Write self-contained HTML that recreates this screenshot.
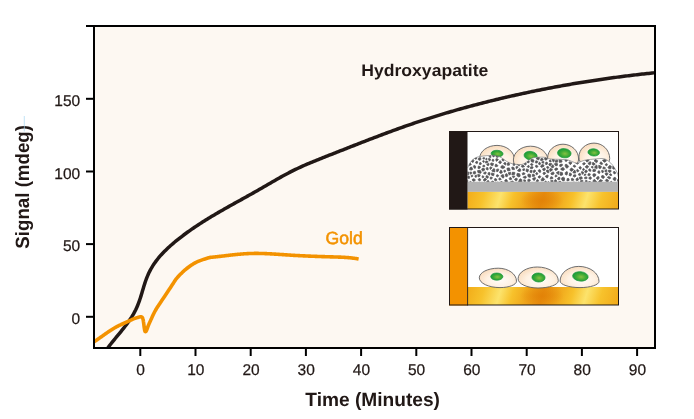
<!DOCTYPE html>
<html><head><meta charset="utf-8"><style>
html,body{margin:0;padding:0;background:#fff;}
svg{display:block;will-change:transform;}
text{font-family:"Liberation Sans",sans-serif;text-rendering:geometricPrecision;}
</style></head><body>
<svg width="694" height="419" viewBox="0 0 694 419">
<defs>
<clipPath id="plot"><rect x="95" y="27" width="559" height="320"/></clipPath>
<linearGradient id="gold1" x1="468.0" y1="177.47" x2="618.0" y2="223.33" gradientUnits="userSpaceOnUse"><stop offset="0.0427" stop-color="#f3b01c"/><stop offset="0.1281" stop-color="#f7c22c"/><stop offset="0.2317" stop-color="#fce36c"/><stop offset="0.3110" stop-color="#f7c12b"/><stop offset="0.4025" stop-color="#efa51a"/><stop offset="0.4939" stop-color="#e68c0e"/><stop offset="0.5854" stop-color="#efa51a"/><stop offset="0.6768" stop-color="#f7c12b"/><stop offset="0.7622" stop-color="#fce36c"/><stop offset="0.8536" stop-color="#f7c22c"/><stop offset="0.9573" stop-color="#f2ad1c"/></linearGradient><radialGradient id="gold1r" cx="542" cy="200.4" r="22" gradientTransform="translate(542 200.4) scale(1 0.5) translate(-542 -200.4)" gradientUnits="userSpaceOnUse"><stop offset="0" stop-color="#e17f05" stop-opacity="0.75"/><stop offset="1" stop-color="#e17f05" stop-opacity="0"/></radialGradient><linearGradient id="gold2" x1="468.0" y1="273.07" x2="618.0" y2="318.93" gradientUnits="userSpaceOnUse"><stop offset="0.0427" stop-color="#f3b01c"/><stop offset="0.1281" stop-color="#f7c22c"/><stop offset="0.2317" stop-color="#fce36c"/><stop offset="0.3110" stop-color="#f7c12b"/><stop offset="0.4025" stop-color="#efa51a"/><stop offset="0.4939" stop-color="#e68c0e"/><stop offset="0.5854" stop-color="#efa51a"/><stop offset="0.6768" stop-color="#f7c12b"/><stop offset="0.7622" stop-color="#fce36c"/><stop offset="0.8536" stop-color="#f7c22c"/><stop offset="0.9573" stop-color="#f2ad1c"/></linearGradient><radialGradient id="gold2r" cx="542" cy="296.0" r="22" gradientTransform="translate(542 296.0) scale(1 0.5) translate(-542 -296.0)" gradientUnits="userSpaceOnUse"><stop offset="0" stop-color="#e17f05" stop-opacity="0.75"/><stop offset="1" stop-color="#e17f05" stop-opacity="0"/></radialGradient>
<radialGradient id="cellg" cx="0.55" cy="0.62" r="0.62"><stop offset="0" stop-color="#fffcf8"/><stop offset="0.55" stop-color="#fef1e3"/><stop offset="1" stop-color="#f9dcbd"/></radialGradient>
<radialGradient id="nuc" cx="0.55" cy="0.55" r="0.55"><stop offset="0" stop-color="#86c143"/><stop offset="0.55" stop-color="#40ab36"/><stop offset="1" stop-color="#179a3c"/></radialGradient>
<clipPath id="in1"><rect x="467.5" y="131.5" width="151" height="77.5"/></clipPath>
<clipPath id="por"><path d="M467.50,168.00 C467.92,167.17 469.08,164.42 470.00,163.00 C470.92,161.58 471.83,160.47 473.00,159.50 C474.17,158.53 475.33,157.77 477.00,157.20 C478.67,156.63 481.00,156.38 483.00,156.10 C485.00,155.82 487.17,155.62 489.00,155.50 C490.83,155.38 492.23,155.18 494.00,155.40 C495.77,155.62 498.10,156.23 499.60,156.80 C501.10,157.37 501.80,158.02 503.00,158.80 C504.20,159.58 505.63,160.80 506.80,161.50 C507.97,162.20 508.93,162.58 510.00,163.00 C511.07,163.42 512.03,163.77 513.20,164.00 C514.37,164.23 515.53,164.32 517.00,164.40 C518.47,164.48 520.50,164.82 522.00,164.50 C523.50,164.18 524.67,163.33 526.00,162.50 C527.33,161.67 528.67,160.32 530.00,159.50 C531.33,158.68 532.50,157.98 534.00,157.60 C535.50,157.22 537.27,157.25 539.00,157.20 C540.73,157.15 542.85,157.07 544.40,157.30 C545.95,157.53 546.87,158.28 548.30,158.60 C549.73,158.92 551.47,159.08 553.00,159.20 C554.53,159.32 555.83,159.25 557.50,159.30 C559.17,159.35 561.25,159.38 563.00,159.50 C564.75,159.62 566.50,159.67 568.00,160.00 C569.50,160.33 570.50,160.97 572.00,161.50 C573.50,162.03 575.50,163.20 577.00,163.20 C578.50,163.20 579.50,162.03 581.00,161.50 C582.50,160.97 583.67,160.42 586.00,160.00 C588.33,159.58 592.50,159.25 595.00,159.00 C597.50,158.75 599.33,158.50 601.00,158.50 C602.67,158.50 603.67,158.50 605.00,159.00 C606.33,159.50 607.75,160.50 609.00,161.50 C610.25,162.50 611.42,163.67 612.50,165.00 C613.58,166.33 614.62,167.93 615.50,169.50 C616.38,171.07 617.22,172.65 617.80,174.40 C618.38,176.15 618.80,179.07 619.00,180.00 L619,182.5 L467,182.5 Z"/></clipPath>
<clipPath id="in2"><rect x="467.5" y="227.5" width="151" height="77.5"/></clipPath>
</defs>
<rect x="94" y="26" width="561" height="322" fill="#fdf8f2"/>
<g clip-path="url(#plot)" fill="none" stroke-linecap="round" stroke-linejoin="round">
<path d="M100.26,360.14 L101.02,358.67 L101.81,357.21 L102.63,355.78 L103.49,354.36 L104.37,352.96 L105.28,351.57 L106.22,350.20 L107.18,348.83 L108.16,347.48 L109.16,346.14 L110.17,344.81 L111.20,343.49 L112.24,342.17 L113.30,340.86 L114.36,339.56 L115.42,338.26 L116.49,336.96 L117.57,335.66 L118.64,334.37 L119.71,333.07 L120.77,331.77 L121.83,330.47 L122.88,329.17 L123.92,327.86 L124.95,326.54 L125.96,325.22 L126.96,323.89 L127.94,322.55 L128.89,321.20 L129.82,319.84 L130.73,318.47 L131.62,317.08 L132.47,315.68 L133.30,314.27 L134.10,312.84 L134.87,311.40 L135.61,309.94 L136.31,308.46 L136.98,306.97 L137.62,305.46 L138.23,303.94 L138.81,302.40 L139.37,300.85 L139.91,299.28 L140.43,297.71 L140.93,296.13 L141.42,294.54 L141.89,292.94 L142.37,291.34 L142.84,289.74 L143.31,288.14 L143.79,286.54 L144.29,284.94 L144.79,283.36 L145.32,281.78 L145.87,280.21 L146.45,278.66 L147.05,277.12 L147.69,275.59 L148.36,274.08 L149.05,272.59 L149.78,271.12 L150.55,269.66 L151.35,268.23 L152.18,266.81 L153.05,265.42 L153.95,264.04 L154.89,262.69 L155.86,261.35 L156.85,260.04 L157.88,258.74 L158.93,257.46 L160.01,256.20 L161.11,254.95 L162.24,253.73 L163.39,252.52 L164.56,251.32 L165.75,250.14 L166.96,248.98 L168.18,247.83 L169.42,246.69 L170.67,245.57 L171.94,244.46 L173.22,243.36 L174.51,242.28 L175.80,241.21 L177.11,240.15 L178.42,239.10 L179.73,238.06 L181.06,237.03 L182.38,236.01 L183.72,235.01 L185.06,234.01 L186.40,233.02 L187.75,232.04 L189.11,231.07 L190.47,230.11 L191.84,229.16 L193.21,228.22 L194.58,227.28 L195.96,226.35 L197.35,225.43 L198.74,224.52 L200.13,223.61 L201.53,222.72 L202.93,221.82 L204.33,220.94 L205.74,220.06 L207.15,219.18 L208.57,218.32 L209.99,217.45 L211.41,216.60 L212.83,215.74 L214.26,214.90 L215.69,214.05 L217.12,213.21 L218.55,212.38 L219.99,211.55 L221.43,210.72 L222.87,209.90 L224.31,209.07 L225.76,208.25 L227.20,207.44 L228.65,206.62 L230.10,205.81 L231.55,205.00 L233.00,204.19 L234.45,203.38 L235.91,202.58 L237.36,201.77 L238.81,200.96 L240.27,200.16 L241.72,199.35 L243.18,198.55 L244.63,197.74 L246.09,196.93 L247.54,196.12 L248.99,195.32 L250.45,194.50 L251.90,193.69 L253.35,192.88 L254.80,192.06 L256.25,191.24 L257.70,190.42 L259.14,189.59 L260.59,188.77 L262.03,187.94 L263.48,187.10 L264.92,186.27 L266.36,185.43 L267.80,184.60 L269.24,183.76 L270.68,182.92 L272.12,182.09 L273.57,181.26 L275.01,180.43 L276.46,179.60 L277.90,178.78 L279.35,177.96 L280.81,177.15 L282.26,176.34 L283.72,175.54 L285.18,174.74 L286.64,173.96 L288.11,173.18 L289.58,172.41 L291.06,171.65 L292.54,170.90 L294.02,170.16 L295.52,169.43 L297.01,168.71 L298.51,168.00 L300.02,167.30 L301.53,166.61 L303.04,165.94 L304.56,165.26 L306.08,164.60 L307.61,163.95 L309.14,163.30 L310.67,162.66 L312.21,162.02 L313.74,161.39 L315.28,160.76 L316.82,160.14 L318.37,159.52 L319.91,158.90 L321.46,158.29 L323.00,157.68 L324.55,157.07 L326.10,156.46 L327.65,155.85 L329.20,155.24 L330.74,154.64 L332.29,154.03 L333.84,153.42 L335.39,152.81 L336.94,152.20 L338.48,151.59 L340.03,150.98 L341.58,150.37 L343.13,149.76 L344.68,149.15 L346.22,148.54 L347.77,147.93 L349.32,147.33 L350.87,146.72 L352.42,146.11 L353.97,145.50 L355.52,144.90 L357.07,144.29 L358.62,143.69 L360.17,143.08 L361.72,142.48 L363.27,141.88 L364.82,141.28 L366.37,140.68 L367.92,140.08 L369.47,139.48 L371.03,138.89 L372.58,138.29 L374.13,137.70 L375.69,137.11 L377.24,136.52 L378.80,135.93 L380.35,135.34 L381.91,134.75 L383.47,134.17 L385.03,133.59 L386.58,133.01 L388.14,132.43 L389.70,131.85 L391.26,131.28 L392.83,130.71 L394.39,130.14 L395.95,129.57 L397.52,129.01 L399.08,128.45 L400.65,127.89 L402.21,127.33 L403.78,126.77 L405.35,126.22 L406.92,125.67 L408.49,125.13 L410.06,124.58 L411.63,124.04 L413.21,123.51 L414.78,122.97 L416.36,122.44 L417.93,121.91 L419.51,121.39 L421.09,120.87 L422.67,120.35 L424.25,119.83 L425.84,119.32 L427.42,118.81 L429.00,118.30 L430.59,117.80 L432.17,117.30 L433.76,116.80 L435.35,116.30 L436.94,115.81 L438.53,115.32 L440.12,114.84 L441.71,114.36 L443.31,113.88 L444.90,113.40 L446.49,112.92 L448.09,112.45 L449.69,111.98 L451.28,111.52 L452.88,111.06 L454.48,110.60 L456.08,110.14 L457.68,109.68 L459.28,109.23 L460.89,108.78 L462.49,108.34 L464.09,107.89 L465.70,107.45 L467.30,107.01 L468.91,106.58 L470.52,106.15 L472.13,105.72 L473.73,105.29 L475.34,104.86 L476.95,104.44 L478.56,104.02 L480.18,103.60 L481.79,103.19 L483.40,102.78 L485.01,102.37 L486.63,101.96 L488.24,101.56 L489.86,101.16 L491.47,100.76 L493.09,100.36 L494.71,99.97 L496.32,99.57 L497.94,99.19 L499.56,98.80 L501.18,98.41 L502.80,98.03 L504.42,97.65 L506.04,97.28 L507.66,96.90 L509.28,96.53 L510.90,96.16 L512.52,95.79 L514.15,95.43 L515.77,95.06 L517.40,94.70 L519.02,94.34 L520.65,93.99 L522.27,93.63 L523.90,93.28 L525.52,92.94 L527.15,92.59 L528.78,92.25 L530.41,91.90 L532.03,91.57 L533.66,91.23 L535.29,90.89 L536.92,90.56 L538.55,90.23 L540.18,89.91 L541.82,89.58 L543.45,89.26 L545.08,88.94 L546.71,88.62 L548.35,88.30 L549.98,87.99 L551.61,87.68 L553.25,87.37 L554.88,87.07 L556.52,86.76 L558.15,86.46 L559.79,86.16 L561.43,85.87 L563.06,85.57 L564.70,85.28 L566.34,84.99 L567.98,84.70 L569.62,84.42 L571.26,84.13 L572.90,83.85 L574.54,83.57 L576.18,83.30 L577.82,83.02 L579.46,82.75 L581.10,82.48 L582.75,82.22 L584.39,81.95 L586.03,81.69 L587.67,81.43 L589.32,81.17 L590.96,80.92 L592.61,80.66 L594.25,80.41 L595.90,80.16 L597.54,79.92 L599.19,79.67 L600.84,79.43 L602.48,79.19 L604.13,78.96 L605.78,78.72 L607.43,78.49 L609.08,78.26 L610.73,78.03 L612.38,77.80 L614.03,77.58 L615.68,77.36 L617.33,77.14 L618.98,76.92 L620.63,76.71 L622.28,76.49 L623.93,76.28 L625.58,76.07 L627.24,75.87 L628.89,75.67 L630.54,75.46 L632.20,75.26 L633.85,75.07 L635.50,74.87 L637.16,74.68 L638.81,74.49 L640.47,74.30 L642.13,74.11 L643.78,73.93 L645.44,73.75 L647.09,73.57 L648.75,73.39 L650.41,73.22 L652.07,73.04 L653.72,72.87 L655.38,72.71 L657.04,72.54 L658.70,72.37 L660.36,72.21 L662.02,72.05" stroke="#211816" stroke-width="3.5"/>
<path d="M86.01,346.32 L86.64,346.01 L87.27,345.69 L87.90,345.37 L88.52,345.04 L89.14,344.70 L89.75,344.36 L90.36,344.01 L90.97,343.66 L91.57,343.30 L92.17,342.93 L92.77,342.57 L93.36,342.20 L93.95,341.82 L94.54,341.44 L95.13,341.06 L95.72,340.67 L96.30,340.28 L96.88,339.89 L97.46,339.49 L98.04,339.09 L98.62,338.69 L99.20,338.29 L99.77,337.89 L100.35,337.48 L100.92,337.08 L101.50,336.67 L102.07,336.27 L102.64,335.86 L103.22,335.45 L103.79,335.05 L104.36,334.64 L104.94,334.24 L105.51,333.83 L106.09,333.43 L106.67,333.03 L107.24,332.63 L107.82,332.23 L108.40,331.83 L108.99,331.44 L109.57,331.05 L110.16,330.66 L110.74,330.28 L111.33,329.90 L111.93,329.52 L112.52,329.15 L113.12,328.78 L113.72,328.42 L114.32,328.06 L114.93,327.71 L115.54,327.36 L116.16,327.02 L116.77,326.68 L117.39,326.35 L118.02,326.03 L118.65,325.71 L119.28,325.40 L119.92,325.10 L120.56,324.80 L121.21,324.51L130.30,320.40 L130.52,320.30 L130.80,320.16 L131.13,320.00 L131.50,319.82 L131.90,319.63 L132.32,319.43 L132.75,319.23 L133.18,319.04 L133.60,318.86 L134.00,318.70 L134.39,318.55 L134.80,318.40 L135.22,318.26 L135.64,318.12 L136.06,317.98 L136.48,317.85 L136.89,317.73 L137.28,317.61 L137.65,317.50 L138.00,317.40 L138.33,317.31 L138.64,317.22 L138.94,317.13 L139.23,317.05 L139.51,316.98 L139.77,316.92 L140.02,316.87 L140.26,316.83 L140.48,316.81 L140.70,316.80 L140.90,316.80 L141.09,316.82 L141.26,316.84 L141.42,316.88 L141.56,316.93 L141.70,316.99 L141.83,317.06 L141.96,317.16 L142.08,317.27 L142.20,317.40 L142.32,317.55 L142.42,317.71 L142.52,317.89 L142.62,318.09 L142.71,318.30 L142.79,318.53 L142.87,318.77 L142.95,319.03 L143.02,319.31 L143.10,319.60 L143.17,319.91 L143.24,320.24 L143.30,320.60 L143.36,320.97 L143.42,321.35 L143.47,321.75 L143.53,322.15 L143.58,322.56 L143.64,322.98 L143.70,323.40 L143.76,323.83 L143.82,324.29 L143.88,324.76 L143.94,325.24 L143.99,325.73 L144.05,326.22 L144.11,326.69 L144.17,327.15 L144.24,327.59 L144.30,328.00 L144.36,328.40 L144.43,328.80 L144.49,329.19 L144.56,329.57 L144.62,329.94 L144.69,330.28 L144.76,330.59 L144.84,330.87 L144.92,331.11 L145.00,331.30 L145.09,331.44 L145.18,331.54 L145.28,331.61 L145.38,331.64 L145.48,331.64 L145.59,331.61 L145.69,331.56 L145.80,331.49 L145.90,331.40 L146.00,331.30 L146.10,331.19 L146.19,331.05 L146.28,330.90 L146.37,330.73 L146.46,330.53 L146.55,330.31 L146.65,330.07 L146.76,329.81 L146.87,329.52 L147.00,329.20 L147.14,328.85 L147.28,328.48 L147.43,328.07 L147.58,327.64 L147.74,327.19 L147.91,326.72 L148.09,326.24 L148.28,325.73 L148.49,325.22 L148.70,324.70 L148.93,324.16 L149.18,323.58 L149.45,322.99 L149.72,322.37 L150.01,321.74 L150.29,321.11 L150.58,320.49 L150.86,319.87 L151.14,319.27 L151.40,318.70 L151.65,318.15 L151.89,317.61 L152.13,317.08 L152.36,316.56 L152.59,316.04 L152.83,315.53 L153.06,315.03 L153.30,314.52 L153.55,314.01 L153.80,313.50 L154.06,312.99 L154.31,312.50 L154.56,312.01 L154.82,311.52 L155.08,311.03 L155.35,310.54 L155.64,310.03 L155.94,309.51 L156.26,308.97 L156.60,308.40 L156.97,307.81 L157.36,307.19 L157.78,306.55 L158.21,305.90 L158.66,305.23 L159.11,304.56 L159.56,303.89 L160.02,303.22 L160.46,302.55 L160.90,301.90 L161.33,301.26 L161.76,300.62 L162.19,299.98 L162.62,299.34 L163.05,298.70 L163.48,298.06 L163.91,297.42 L164.34,296.78 L164.77,296.14 L165.20,295.50 L165.63,294.85 L166.08,294.18 L166.52,293.51 L166.97,292.84 L167.41,292.16 L167.85,291.50 L168.28,290.84 L168.70,290.21 L169.11,289.59 L169.50,289.00 L169.87,288.44 L170.21,287.92 L170.54,287.41 L170.86,286.93 L171.18,286.45 L171.48,285.98 L171.80,285.50 L172.12,285.02 L172.45,284.52 L172.80,284.00 L173.15,283.46 L173.50,282.92 L173.84,282.38 L174.18,281.83 L174.54,281.27 L174.91,280.70 L175.31,280.12 L175.73,279.53 L176.19,278.92 L176.70,278.30 L177.26,277.65 L177.86,276.97 L178.50,276.27 L179.18,275.55 L179.88,274.83 L180.59,274.11 L181.30,273.40 L182.02,272.70 L182.72,272.03 L183.40,271.40 L184.07,270.79 L184.74,270.20 L185.41,269.63 L186.08,269.06 L186.75,268.52 L187.42,267.99 L188.09,267.47 L188.76,266.97 L189.43,266.48 L190.10,266.00 L190.77,265.54 L191.44,265.09 L192.11,264.65 L192.78,264.23 L193.45,263.82 L194.12,263.43 L194.79,263.05 L195.46,262.69 L196.13,262.34 L196.80,262.00 L197.47,261.68 L198.14,261.38 L198.82,261.10 L199.49,260.83 L200.16,260.57 L200.83,260.33 L201.50,260.09 L202.17,259.86 L202.84,259.63 L203.50,259.40 L204.19,259.17 L204.92,258.93 L205.67,258.69 L206.43,258.46 L207.17,258.24 L207.88,258.03 L208.53,257.83 L209.12,257.66 L209.61,257.52 L210.00,257.40L210.59,257.37 L211.18,257.31 L211.78,257.25 L212.37,257.19 L212.97,257.13 L213.56,257.07 L214.16,257.01 L214.75,256.95 L215.35,256.88 L215.95,256.82 L216.54,256.75 L217.14,256.68 L217.74,256.62 L218.33,256.55 L218.93,256.48 L219.53,256.41 L220.12,256.34 L220.72,256.27 L221.32,256.20 L221.91,256.13 L222.51,256.06 L223.11,255.99 L223.70,255.92 L224.30,255.85 L224.90,255.78 L225.50,255.71 L226.09,255.64 L226.69,255.57 L227.29,255.50 L227.89,255.43 L228.48,255.36 L229.08,255.29 L229.68,255.22 L230.28,255.15 L230.87,255.08 L231.47,255.02 L232.07,254.95 L232.67,254.88 L233.27,254.82 L233.86,254.75 L234.46,254.69 L235.06,254.63 L235.66,254.57 L236.26,254.51 L236.85,254.45 L237.45,254.39 L238.05,254.33 L238.65,254.27 L239.24,254.22 L239.84,254.17 L240.44,254.11 L241.04,254.06 L241.64,254.01 L242.23,253.97 L242.83,253.92 L243.43,253.88 L244.03,253.83 L244.63,253.79 L245.22,253.75 L245.82,253.72 L246.42,253.68 L247.02,253.65 L247.61,253.62 L248.21,253.59 L248.81,253.56 L249.41,253.54 L250.00,253.52 L250.60,253.50 L251.20,253.48 L251.80,253.46 L252.39,253.45 L252.99,253.44 L253.59,253.43 L254.18,253.42 L254.78,253.42 L255.38,253.41 L255.98,253.41 L256.57,253.41 L257.17,253.41 L257.77,253.42 L258.36,253.42 L258.96,253.43 L259.56,253.44 L260.15,253.45 L260.75,253.46 L261.35,253.48 L261.94,253.49 L262.54,253.51 L263.14,253.53 L263.73,253.55 L264.33,253.57 L264.93,253.59 L265.53,253.61 L266.12,253.64 L266.72,253.66 L267.32,253.69 L267.91,253.72 L268.51,253.75 L269.11,253.77 L269.70,253.81 L270.30,253.84 L270.90,253.87 L271.49,253.90 L272.09,253.94 L272.69,253.97 L273.28,254.01 L273.88,254.04 L274.48,254.08 L275.07,254.12 L275.67,254.15 L276.27,254.19 L276.86,254.23 L277.46,254.27 L278.06,254.31 L278.65,254.35 L279.25,254.39 L279.85,254.43 L280.45,254.47 L281.04,254.51 L281.64,254.55 L282.24,254.59 L282.83,254.63 L283.43,254.67 L284.03,254.71 L284.63,254.75 L285.22,254.80 L285.82,254.84 L286.42,254.88 L287.02,254.92 L287.61,254.96 L288.21,254.99 L288.81,255.03 L289.41,255.07 L290.01,255.11 L290.60,255.15 L291.20,255.18 L291.80,255.22 L292.40,255.26 L293.00,255.29 L293.59,255.33 L294.19,255.36 L294.79,255.40 L295.39,255.43 L295.99,255.46 L296.59,255.50 L297.18,255.53 L297.78,255.56 L298.38,255.59 L298.98,255.63 L299.58,255.66 L300.18,255.69 L300.78,255.72 L301.38,255.75 L301.97,255.78 L302.57,255.81 L303.17,255.84 L303.77,255.86 L304.37,255.89 L304.97,255.92 L305.57,255.95 L306.17,255.97 L306.77,256.00 L307.36,256.03 L307.96,256.05 L308.56,256.08 L309.16,256.11 L309.76,256.13 L310.36,256.16 L310.96,256.18 L311.56,256.20 L312.16,256.23 L312.75,256.25 L313.35,256.28 L313.95,256.30 L314.55,256.32 L315.15,256.34 L315.75,256.37 L316.35,256.39 L316.95,256.41 L317.55,256.43 L318.14,256.45 L318.74,256.47 L319.34,256.50 L319.94,256.52 L320.54,256.54 L321.14,256.56 L321.74,256.58 L322.34,256.60 L322.93,256.62 L323.53,256.64 L324.13,256.65 L324.73,256.67 L325.33,256.69 L325.93,256.71 L326.53,256.73 L327.12,256.75 L327.72,256.77 L328.32,256.78 L328.92,256.80 L329.52,256.82 L330.12,256.84 L330.71,256.85 L331.31,256.87 L331.91,256.89 L332.51,256.90 L333.11,256.92 L333.70,256.94 L334.30,256.95 L334.90,256.97 L335.50,256.99 L336.09,257.01 L336.69,257.02 L337.29,257.04 L337.88,257.06 L338.48,257.08 L339.08,257.10 L339.67,257.13 L340.27,257.15 L340.87,257.17 L341.46,257.20 L342.06,257.23 L342.66,257.26 L343.25,257.29 L343.85,257.32 L344.44,257.36 L345.04,257.39 L345.63,257.43 L346.23,257.47 L346.82,257.51 L347.41,257.56 L348.01,257.61 L348.60,257.66 L349.19,257.71 L349.79,257.77 L350.38,257.83 L350.97,257.89 L351.56,257.95 L352.15,258.02 L352.75,258.09 L353.34,258.17 L353.93,258.25 L354.52,258.33 L355.11,258.41 L355.70,258.50 L356.29,258.60 L356.88,258.69 L357.46,258.80 L358.05,258.90 L358.64,259.01" stroke="#f39200" stroke-width="3.6" stroke-linecap="butt"/>
</g>
<g fill="none" stroke="#000" stroke-width="2">
<path d="M86,26 H655 V348 H94 V26"/>
<line x1="140.3" y1="348" x2="140.3" y2="356"/><line x1="195.5" y1="348" x2="195.5" y2="356"/><line x1="250.7" y1="348" x2="250.7" y2="356"/><line x1="305.9" y1="348" x2="305.9" y2="356"/><line x1="361.1" y1="348" x2="361.1" y2="356"/><line x1="416.3" y1="348" x2="416.3" y2="356"/><line x1="471.5" y1="348" x2="471.5" y2="356"/><line x1="526.7" y1="348" x2="526.7" y2="356"/><line x1="581.9" y1="348" x2="581.9" y2="356"/><line x1="637.1" y1="348" x2="637.1" y2="356"/>
<line x1="86" y1="316.8" x2="94" y2="316.8"/><line x1="86" y1="244.1" x2="94" y2="244.1"/><line x1="86" y1="171.5" x2="94" y2="171.5"/><line x1="86" y1="98.8" x2="94" y2="98.8"/>
</g>
<g fill="#211816" stroke="#211816" stroke-width="0.25" font-size="15.5" text-anchor="middle"><text x="140.6" y="375">0</text><text x="195.8" y="375">10</text><text x="251.0" y="375">20</text><text x="306.2" y="375">30</text><text x="361.4" y="375">40</text><text x="416.6" y="375">50</text><text x="471.8" y="375">60</text><text x="527.0" y="375">70</text><text x="582.2" y="375">80</text><text x="637.4" y="375">90</text></g>
<g fill="#211816" stroke="#211816" stroke-width="0.25" font-size="15.5" text-anchor="end"><text x="80.2" y="324.0">0</text><text x="80.2" y="251.3">50</text><text x="80.2" y="178.7">100</text><text x="80.2" y="106.0">150</text></g>
<text x="372.65" y="405.8" font-size="19.2" font-weight="bold" fill="#211816" text-anchor="middle" textLength="134.6" lengthAdjust="spacingAndGlyphs">Time (Minutes)</text>
<text transform="translate(28.9,186.85) rotate(-90)" font-size="19.2" font-weight="bold" fill="#211816" text-anchor="middle" textLength="123.6" lengthAdjust="spacingAndGlyphs">Signal (mdeg)</text>
<text x="424.8" y="75.6" font-size="16.8" font-weight="bold" fill="#211816" text-anchor="middle" textLength="127" lengthAdjust="spacingAndGlyphs">Hydroxyapatite</text>
<text x="344.1" y="243.9" font-size="17.6" fill="#f39200" stroke="#f39200" stroke-width="0.55" text-anchor="middle" textLength="37.2" lengthAdjust="spacingAndGlyphs">Gold</text>

<rect x="449" y="131" width="170" height="78.5" fill="#fff"/>
<g clip-path="url(#in1)">
<path d="M479.60,158.50 C479.60,151.27 487.40,145.40 497.00,145.40 C506.72,145.40 514.60,151.94 514.60,160.00 C514.60,166.07 506.72,171.00 497.00,171.00 C487.40,171.00 479.60,165.40 479.60,158.50 Z" fill="url(#cellg)" stroke="#5e5f61" stroke-width="0.9"/><ellipse cx="497.1" cy="153.6" rx="6.00" ry="3.30" fill="url(#nuc)" stroke="#1d9a3b" stroke-width="0.7" transform="rotate(3 497.1 153.6)"/>
<path d="M513.40,160.00 C513.40,152.38 521.06,146.20 530.50,146.20 C540.16,146.20 548.00,152.61 548.00,160.50 C548.00,166.85 540.16,172.00 530.50,172.00 C521.06,172.00 513.40,166.62 513.40,160.00 Z" fill="url(#cellg)" stroke="#5e5f61" stroke-width="0.9"/><ellipse cx="530.6" cy="155.7" rx="6.60" ry="4.30" fill="url(#nuc)" stroke="#1d9a3b" stroke-width="0.7" transform="rotate(8 530.6 155.7)"/>
<path d="M547.60,158.00 C547.60,150.38 554.50,144.20 563.00,144.20 C571.61,144.20 578.60,150.83 578.60,159.00 C578.60,165.07 571.61,170.00 563.00,170.00 C554.50,170.00 547.60,164.62 547.60,158.00 Z" fill="url(#cellg)" stroke="#5e5f61" stroke-width="0.9"/><ellipse cx="564.3" cy="153.2" rx="6.80" ry="4.60" fill="url(#nuc)" stroke="#1d9a3b" stroke-width="0.7" transform="rotate(6 564.3 153.2)"/>
<path d="M578.90,157.00 C578.90,149.33 585.66,143.10 594.00,143.10 C602.67,143.10 609.70,150.00 609.70,158.50 C609.70,164.30 602.67,169.00 594.00,169.00 C585.66,169.00 578.90,163.62 578.90,157.00 Z" fill="url(#cellg)" stroke="#5e5f61" stroke-width="0.9"/><ellipse cx="593.7" cy="152.4" rx="5.80" ry="3.60" fill="url(#nuc)" stroke="#1d9a3b" stroke-width="0.7" transform="rotate(5 593.7 152.4)"/>
<path d="M467.50,168.00 C467.92,167.17 469.08,164.42 470.00,163.00 C470.92,161.58 471.83,160.47 473.00,159.50 C474.17,158.53 475.33,157.77 477.00,157.20 C478.67,156.63 481.00,156.38 483.00,156.10 C485.00,155.82 487.17,155.62 489.00,155.50 C490.83,155.38 492.23,155.18 494.00,155.40 C495.77,155.62 498.10,156.23 499.60,156.80 C501.10,157.37 501.80,158.02 503.00,158.80 C504.20,159.58 505.63,160.80 506.80,161.50 C507.97,162.20 508.93,162.58 510.00,163.00 C511.07,163.42 512.03,163.77 513.20,164.00 C514.37,164.23 515.53,164.32 517.00,164.40 C518.47,164.48 520.50,164.82 522.00,164.50 C523.50,164.18 524.67,163.33 526.00,162.50 C527.33,161.67 528.67,160.32 530.00,159.50 C531.33,158.68 532.50,157.98 534.00,157.60 C535.50,157.22 537.27,157.25 539.00,157.20 C540.73,157.15 542.85,157.07 544.40,157.30 C545.95,157.53 546.87,158.28 548.30,158.60 C549.73,158.92 551.47,159.08 553.00,159.20 C554.53,159.32 555.83,159.25 557.50,159.30 C559.17,159.35 561.25,159.38 563.00,159.50 C564.75,159.62 566.50,159.67 568.00,160.00 C569.50,160.33 570.50,160.97 572.00,161.50 C573.50,162.03 575.50,163.20 577.00,163.20 C578.50,163.20 579.50,162.03 581.00,161.50 C582.50,160.97 583.67,160.42 586.00,160.00 C588.33,159.58 592.50,159.25 595.00,159.00 C597.50,158.75 599.33,158.50 601.00,158.50 C602.67,158.50 603.67,158.50 605.00,159.00 C606.33,159.50 607.75,160.50 609.00,161.50 C610.25,162.50 611.42,163.67 612.50,165.00 C613.58,166.33 614.62,167.93 615.50,169.50 C616.38,171.07 617.22,172.65 617.80,174.40 C618.38,176.15 618.80,179.07 619.00,180.00 L619,182.5 L467,182.5 Z" fill="#fff"/>
<g fill="#58585a" stroke="#58585a" stroke-width="0.8" stroke-linejoin="round" clip-path="url(#por)"><path d="M561.8,177.8 561.6,179.6 562.8,180.9 564.3,180.7 564.6,177.9 563.5,177.2ZM614.1,177.4 613.4,178.2 613.1,179.4 614.3,180.5 615.5,180.4 616.0,178.5 615.3,177.4ZM536.3,158.9 538.7,159.8 538.9,159.8 539.4,157.9 538.8,156.6 538.6,156.6 536.7,157.7ZM486.6,181.9 487.7,180.5 488.2,180.5 489.0,181.2 488.8,182.2 487.0,182.7ZM472.7,162.4 471.1,161.1 472.3,158.9 472.5,158.8 473.9,160.6 473.2,162.3ZM512.7,180.9 510.5,181.8 510.3,182.9 510.8,183.5 512.6,183.7 513.8,182.2ZM512.3,169.6 512.4,169.6 514.4,169.6 514.5,169.5 513.9,167.4 512.4,167.1 511.9,167.2 511.7,167.4ZM582.3,183.8 582.2,184.2 583.1,184.8 583.9,184.4 584.3,183.1 583.7,182.3ZM590.6,164.3 591.0,162.1 589.9,161.8 588.1,163.3 588.1,163.8 589.7,164.9ZM520.1,171.6 520.7,170.9 520.5,169.1 519.7,168.4 517.5,170.4 517.5,170.6 517.8,171.1ZM478.3,179.2 478.7,178.8 480.0,178.5 480.7,179.6 480.7,180.2 479.5,180.9 478.4,180.2ZM475.5,162.9 476.0,161.5 477.0,161.3 477.8,161.9 477.3,163.4 476.9,163.6ZM550.7,160.0 550.2,159.7 549.7,160.0 549.2,161.0 549.6,161.8 551.2,161.9ZM594.8,166.5 596.4,165.3 597.0,165.3 597.2,168.4 596.6,168.7 594.8,167.7ZM541.2,182.2 542.5,182.5 542.8,183.5 542.2,184.1 541.3,184.1 540.7,183.0ZM580.3,166.5 581.4,167.5 580.6,169.2 580.3,169.3 578.9,167.9 579.1,167.2ZM544.0,161.7 543.6,163.2 542.2,163.0 541.8,161.9 543.5,161.3ZM504.8,180.3 504.7,180.4 505.4,182.3 507.3,181.9 507.5,181.1 506.7,179.6 505.7,179.6ZM521.0,178.8 521.7,179.6 521.9,182.1 521.5,182.5 520.7,182.7 518.7,181.9 518.6,181.8 519.5,179.3ZM575.6,174.8 576.0,176.1 574.7,177.1 573.2,176.3 573.7,174.9ZM501.1,176.3 502.9,178.2 504.1,177.2 503.5,174.8 503.0,174.6 501.2,175.3ZM593.0,174.0 592.9,175.4 593.7,176.8 594.5,176.8 596.0,175.0 595.2,173.8 593.1,173.9ZM520.0,176.4 518.7,176.9 517.1,176.0 516.8,175.0 517.2,173.3 519.7,173.8 520.2,175.9ZM601.4,176.1 601.7,177.6 603.4,178.5 604.4,177.3 604.5,176.9 603.3,175.5 602.1,175.6ZM539.6,178.2 540.8,176.7 540.1,175.8 539.5,175.8 538.0,176.8 538.2,177.4ZM555.4,177.0 555.0,176.0 555.8,174.8 557.3,175.9 557.3,175.9 556.1,177.1ZM532.3,174.5 532.5,176.5 535.0,176.0 534.1,174.4 533.0,174.1ZM482.9,160.7 482.5,161.2 483.3,162.3 484.1,162.3 484.3,161.0 484.1,160.8ZM522.7,174.9 524.9,174.1 525.0,173.6 524.3,172.8 522.8,172.8 522.3,173.4ZM468.4,172.0 468.2,171.8 467.0,172.0 466.6,172.9 467.4,174.8 468.8,174.5ZM485.8,173.8 485.1,174.2 483.6,173.4 483.8,172.7 485.3,171.9 486.2,172.3ZM477.5,170.7 477.7,170.5 480.2,170.3 481.2,172.0 481.0,173.1 480.7,173.3 478.0,172.7ZM522.1,167.3 521.3,166.6 521.3,166.5 521.7,165.6 523.0,165.1 524.4,166.3 524.4,166.8ZM508.3,172.7 508.2,173.0 509.3,175.0 510.2,174.8 510.3,174.7 510.6,172.2 510.5,172.2ZM567.6,172.4 567.2,171.7 566.4,171.7 565.2,172.7 565.3,174.4 566.2,175.0 567.1,174.8ZM548.2,168.4 548.9,167.5 548.9,167.2 547.9,166.4 546.7,166.8 546.6,167.1 547.2,168.3ZM581.8,171.6 581.5,171.7 581.3,172.2 582.5,174.4 583.8,172.8 583.4,172.1ZM504.9,166.9 502.5,165.4 501.1,166.2 500.8,167.2 501.4,168.1 502.7,168.6 504.5,167.8ZM606.4,169.5 604.9,170.5 605.1,172.0 606.8,171.5 606.9,170.0ZM574.1,164.9 573.0,166.3 574.6,167.3 574.8,167.3 575.6,166.8 575.8,166.1ZM539.6,172.4 540.3,172.4 540.8,171.2 540.3,169.9 539.6,169.5 538.2,170.3 538.3,171.0ZM594.7,179.5 596.4,181.2 596.4,181.8 595.1,183.0 593.3,182.3 592.9,181.0 593.9,179.6ZM559.9,164.5 562.2,164.1 562.4,164.4 562.2,165.7 560.2,166.8 559.6,166.0ZM484.3,167.0 484.8,166.2 484.5,165.3 484.2,165.1 483.4,165.1 482.7,166.0 482.9,166.7ZM611.1,170.7 610.8,170.2 608.6,170.1 608.4,171.7 609.1,172.4 610.8,172.0ZM505.1,170.0 503.8,170.6 504.1,172.1 504.4,172.2 505.6,171.7 505.7,171.5ZM583.3,168.3 582.5,170.1 583.7,170.5 584.6,169.4 583.8,168.4ZM490.9,177.0 492.4,177.6 491.9,178.8 490.9,179.2 490.0,178.4 490.3,177.3ZM476.3,174.9 476.6,176.9 476.1,177.4 474.9,176.7 475.0,175.6ZM605.5,168.2 604.1,169.1 602.8,168.5 603.3,167.1 603.8,166.8 605.5,167.9ZM500.3,160.8 499.9,160.7 498.6,162.3 499.9,163.7 501.1,163.1 501.4,162.1ZM519.8,164.7 519.3,165.8 517.2,164.7 517.1,164.0 518.3,163.0 519.2,163.3ZM531.7,184.6 531.2,183.4 532.1,182.5 533.2,183.0 533.6,183.6 533.2,184.9 533.0,185.0ZM532.8,166.8 533.1,168.0 532.2,168.6 530.4,168.5 530.3,168.3 530.8,166.8ZM504.5,158.6 504.0,160.5 502.9,161.1 501.8,159.6 503.6,158.2ZM580.0,179.4 579.2,177.3 581.6,176.8 582.1,177.4 582.2,178.8ZM565.3,164.5 565.1,166.1 566.4,168.1 567.4,168.1 568.6,166.4 566.9,164.4ZM526.0,171.1 527.0,172.1 528.0,171.7 528.5,169.8 528.4,169.5 526.4,168.9ZM507.4,165.3 507.5,163.1 508.9,162.4 509.0,162.5 509.5,165.0 509.3,165.2ZM592.3,164.6 592.7,162.4 593.0,162.3 595.3,164.1 593.9,165.2ZM586.7,170.2 585.8,170.0 584.6,171.5 585.0,172.3 586.5,172.6 587.3,171.9ZM535.8,165.3 537.0,165.3 537.9,166.3 537.9,166.8 536.7,167.6 535.7,167.1 535.5,166.2ZM497.0,161.2 496.1,161.1 495.8,158.9 496.0,158.7 497.9,158.9 498.3,159.5ZM492.8,165.8 490.8,165.1 490.8,163.1 491.2,162.9 493.5,163.5ZM573.5,169.4 571.4,168.0 571.1,168.1 569.9,169.8 570.4,170.7 572.0,171.3ZM573.6,184.8 572.3,184.0 572.1,182.5 574.2,182.0 574.8,182.6 574.8,183.9ZM551.9,163.8 551.6,163.6 549.3,163.5 548.8,164.9 550.1,165.9 551.9,163.8ZM550.1,178.8 550.9,176.7 552.5,177.1 553.0,178.2 552.6,178.7 550.4,179.0ZM475.1,179.4 473.7,178.7 472.4,179.3 472.0,179.9 473.7,181.4 475.2,180.5ZM585.3,163.5 584.3,162.5 584.1,162.5 582.6,163.7 582.5,164.0 583.6,164.9 584.0,165.0 585.3,163.8ZM501.8,170.7 502.3,172.8 500.6,173.4 499.5,172.6 500.6,170.2ZM474.3,168.2 473.4,166.4 473.8,165.6 474.2,165.4 475.6,166.1 475.5,168.1 475.3,168.3ZM559.9,174.9 561.0,175.4 562.6,174.9 562.5,172.7 560.5,172.0 559.9,174.9ZM588.9,181.4 590.5,181.7 591.0,183.1 590.0,184.3 588.3,184.0 588.0,183.0ZM480.8,159.4 480.4,160.1 479.3,160.3 478.2,159.5 478.5,158.3 480.0,157.6 480.7,157.8ZM529.3,162.1 529.0,160.8 527.3,161.0 527.0,161.7 527.9,163.0 528.6,162.9ZM553.9,161.6 554.5,160.0 553.4,158.9 552.2,159.1 553.0,161.8 553.3,162.0ZM614.8,169.0 615.9,167.6 615.3,166.3 613.6,165.7 612.9,166.1 612.7,168.7 613.1,169.1ZM569.1,180.4 569.0,178.8 568.0,178.4 567.2,178.6 566.9,180.6 567.2,180.9ZM533.4,162.3 534.0,160.0 531.4,159.3 530.9,160.2 531.3,161.8ZM479.9,168.3 478.0,168.4 478.2,166.3 478.6,166.1 480.2,166.6 480.4,167.4ZM468.0,180.7 465.7,179.5 465.6,179.5 465.1,179.8 464.7,181.8 465.6,183.2 467.1,182.9ZM511.8,178.9 510.7,177.3 509.9,177.5 509.2,178.3 509.9,179.9 511.8,179.2ZM530.5,174.6 530.7,176.8 530.4,177.3 528.4,177.0 527.7,175.1 527.9,174.4 529.0,174.0ZM548.1,181.6 547.5,183.8 547.7,184.2 549.0,184.2 549.6,183.4 548.7,181.8 548.4,181.6ZM498.6,176.1 497.5,176.9 496.3,176.3 496.8,174.8 497.9,174.8 498.7,175.4ZM611.0,173.8 609.7,174.1 609.5,175.0 611.1,175.8 611.8,175.2ZM599.3,173.4 598.4,173.2 597.7,172.2 598.2,171.0 598.6,170.8 599.6,170.9 600.0,172.9ZM604.2,162.3 602.5,160.3 602.5,160.2 605.1,159.4 606.3,160.4 606.1,161.3ZM532.6,178.6 533.0,179.8 534.4,180.4 535.6,178.4 535.3,177.6 535.3,177.6 532.9,178.2ZM492.1,167.7 490.6,169.4 490.1,169.2 489.8,167.4 490.4,166.9 492.0,167.5ZM557.1,168.0 557.7,168.8 557.7,169.5 555.7,170.6 554.8,169.8 554.7,169.1 555.6,168.0ZM490.5,158.9 488.6,158.4 488.6,159.9 489.3,160.8 489.7,160.9 490.1,160.7ZM600.5,179.5 598.8,181.1 598.8,181.8 600.6,182.7 602.5,180.8 602.5,180.6ZM551.3,172.9 553.1,171.9 554.1,172.7 554.1,173.4 553.1,174.8 551.2,174.4 550.9,173.7ZM533.6,170.5 534.4,169.9 535.5,170.5 535.6,171.2 534.4,172.6 533.4,172.4ZM548.0,175.2 548.3,175.8 547.5,177.9 547.2,177.9 546.4,177.7 545.2,176.3 547.0,175.0ZM545.8,162.3 547.0,162.1 547.6,163.1 547.2,164.3 545.9,164.7 545.3,163.8ZM589.0,178.6 589.0,177.4 590.7,176.8 591.5,178.1 590.7,179.3 589.4,179.1ZM607.5,177.1 608.6,176.4 610.6,177.4 610.3,178.6 609.6,178.9 607.4,177.6ZM565.4,161.3 566.7,161.3 567.4,160.3 567.4,159.7 566.1,158.9 565.4,159.1 565.0,159.8 565.2,161.1ZM541.9,164.6 540.7,166.2 540.8,166.9 541.7,167.4 544.0,166.2 544.1,165.9 543.5,164.8ZM541.2,180.5 543.1,180.9 544.7,179.5 543.2,177.7 542.7,177.5 541.1,179.7ZM584.6,178.5 584.6,177.4 586.4,176.8 586.9,177.3 586.9,178.6 584.9,178.8ZM484.9,181.3 483.5,180.5 483.5,179.6 485.2,178.0 486.7,179.2ZM489.9,174.9 490.0,172.9 489.8,172.6 489.2,172.4 488.3,172.7 487.9,174.3 489.2,175.2ZM556.4,182.6 556.5,182.5 556.8,181.0 555.9,179.8 555.0,179.7 554.6,180.2 554.7,182.4 555.1,182.7ZM488.9,163.4 488.6,163.3 486.7,164.3 487.1,165.3 488.4,165.6 489.0,165.1ZM575.5,162.9 577.3,164.2 578.4,163.5 578.4,163.2 578.2,162.9 576.7,161.8 576.0,161.9 575.5,162.8ZM589.0,160.5 587.9,159.0 586.9,159.2 585.7,160.8 587.0,162.1ZM493.6,161.3 492.0,160.9 492.3,159.5 492.6,159.3 493.6,159.4 493.9,161.1ZM558.9,181.5 560.2,181.1 561.1,182.1 560.5,183.0 558.6,182.8ZM589.7,168.6 590.8,169.7 590.8,171.3 590.7,171.3 589.1,171.0 588.6,169.7ZM549.4,169.5 550.4,168.3 552.3,169.3 552.3,170.2 550.3,171.4ZM606.6,165.9 605.2,165.0 605.4,164.2 606.8,163.5 607.5,164.7ZM494.4,155.0 494.1,154.6 493.5,154.5 492.5,155.1 492.9,156.7 494.0,156.9 494.2,156.7ZM580.9,175.0 580.9,174.9 580.0,173.2 578.4,174.0 578.4,174.1 578.8,175.3 579.1,175.4ZM579.0,182.0 577.5,182.6 577.5,183.8 578.7,184.4 579.8,184.0 579.8,183.6ZM497.8,165.6 497.6,166.3 495.9,166.8 495.1,166.4 495.0,166.2 495.5,164.3 495.8,164.2 496.6,164.3ZM498.4,182.3 498.6,183.5 497.7,184.3 496.7,183.7 496.8,182.7 497.9,182.0ZM603.5,182.3 604.5,183.7 603.8,185.0 603.6,185.0 602.3,184.4 602.1,183.8ZM473.2,172.0 473.3,173.6 474.0,174.2 475.7,173.3 475.8,173.2 475.3,171.4 474.1,171.4ZM559.2,162.0 559.1,160.1 559.3,159.8 561.7,160.2 562.0,162.0 559.4,162.4ZM491.3,183.0 492.5,184.3 492.7,184.4 494.2,183.7 494.4,182.4 492.9,181.0 491.6,181.5ZM535.4,162.6 535.9,160.7 535.9,160.7 537.9,161.4 537.0,163.0 535.6,163.0ZM524.3,162.9 525.5,162.5 526.4,164.0 525.4,165.2 524.1,164.0ZM545.0,172.3 543.5,172.4 543.0,173.6 543.7,174.6 544.0,174.7 545.7,173.4ZM529.4,166.3 528.9,167.6 527.3,167.0 527.2,166.9 527.2,166.5 528.1,165.5 528.8,165.4ZM493.7,168.5 491.7,170.9 492.0,171.2 494.8,172.0 494.8,169.1ZM502.0,181.4 502.8,183.4 502.5,183.8 500.4,183.4 500.3,182.0ZM557.4,162.2 557.4,160.0 555.6,160.4 555.0,162.1ZM577.3,172.0 578.9,171.1 579.0,170.8 577.5,169.2 576.6,169.9ZM496.6,179.1 496.8,180.2 495.5,181.1 494.3,179.9 494.9,178.5 495.0,178.4ZM517.4,178.8 516.6,180.8 515.5,180.7 514.5,179.5 514.5,179.3 516.0,178.0ZM614.8,171.5 615.7,173.0 615.1,173.8 614.1,173.9 613.4,172.5 613.6,171.6ZM548.2,170.0 549.1,171.9 548.7,172.8 547.3,172.6 546.3,171.1 546.9,170.0ZM599.8,163.7 600.5,162.1 601.2,161.8 602.6,163.5 602.4,164.3 601.9,164.6ZM563.2,170.5 564.6,169.3 563.2,167.4 560.9,168.6 560.9,169.4 561.3,169.9ZM588.5,167.1 588.6,166.5 586.9,165.3 585.2,166.8 586.3,168.1 587.2,168.3ZM594.2,161.0 595.2,159.4 595.5,159.4 597.7,160.8 596.9,162.6 596.8,162.6 596.3,162.6ZM606.5,179.1 608.7,180.4 607.8,182.0 606.7,182.1 605.4,180.5 605.4,180.4ZM611.3,181.3 612.5,182.4 611.9,184.0 610.9,184.3 609.8,183.1 610.7,181.6ZM571.9,162.9 570.6,164.6 570.3,164.7 568.8,162.9 569.6,161.7 571.9,162.7ZM484.7,170.1 482.7,171.2 481.6,169.5 482.3,168.3 484.3,168.6ZM578.5,179.9 577.8,178.0 577.4,177.8 576.1,178.9 576.1,180.2 576.7,180.8 578.4,180.1ZM496.6,169.4 496.6,171.6 496.7,171.6 497.9,171.6 498.7,169.7 498.3,168.9ZM528.3,179.2 530.0,179.4 530.4,180.6 529.3,181.7 527.9,181.6 527.8,179.8ZM588.6,173.6 588.0,174.1 587.9,175.3 588.4,175.8 590.1,175.2 590.2,173.9ZM608.1,167.8 608.6,168.4 611.0,168.6 611.2,166.0 609.4,165.6 608.0,167.4ZM471.8,170.0 469.8,169.8 469.6,169.6 470.1,167.5 471.6,167.0 472.7,169.3ZM514.5,174.5 511.9,174.9 512.2,172.3 514.6,172.3 514.9,172.8ZM479.2,164.2 479.8,162.6 480.7,162.4 481.5,163.7 480.8,164.7ZM469.3,178.5 468.9,178.6 466.9,177.5 467.8,176.2 469.0,176.0 469.2,176.1 469.7,177.8ZM488.4,176.6 488.0,178.1 487.4,178.2 486.0,177.1 486.0,176.1 486.9,175.6ZM571.6,174.1 571.1,175.6 570.3,175.9 569.1,175.4 569.7,172.9 571.1,173.4ZM600.9,168.1 601.4,166.4 598.8,165.2 598.7,165.3 598.9,168.2 600.2,168.5ZM605.0,173.9 605.4,173.3 607.2,172.7 607.9,173.5 607.6,174.7 606.3,175.5ZM557.3,163.5 555.0,163.4 554.4,163.8 554.4,163.8 555.5,165.7 557.2,165.7 557.6,163.9ZM471.3,164.1 469.7,162.7 469.3,162.8 467.9,164.3 469.4,165.5 470.8,165.0ZM598.8,176.7 597.7,176.5 596.2,178.2 597.7,179.7 599.2,178.3ZM472.6,183.1 472.5,183.5 470.7,185.1 470.4,185.1 469.0,183.7 469.9,181.6 470.4,181.4ZM487.3,169.9 486.4,169.4 486.2,168.3 486.7,167.5 487.9,167.7 488.2,169.6ZM523.2,177.3 523.7,178.0 525.8,178.2 526.3,177.6 525.7,176.0 523.3,176.9ZM507.4,168.0 509.4,167.9 510.2,170.4 507.8,171.0 506.9,168.9 507.3,168.0ZM592.9,171.5 595.2,171.4 595.8,169.9 594.2,168.9 592.9,169.7ZM545.4,160.1 546.7,159.9 547.5,158.5 545.6,157.3 545.3,157.3 544.5,158.4 544.8,159.6ZM493.6,175.7 493.4,175.8 491.5,175.1 491.7,172.9 494.2,173.7 494.2,173.7ZM512.9,165.1 514.3,165.4 515.1,164.7 515.0,164.2 514.0,163.4ZM545.4,169.3 544.7,167.9 542.6,168.9 543.2,170.5 544.9,170.3ZM550.6,180.7 552.9,180.4 553.0,182.4 551.5,182.4ZM536.2,181.2 537.2,179.5 538.5,180.2 538.6,180.8 538.2,181.5 536.6,181.8ZM475.9,157.1 474.3,157.4 474.2,157.7 475.4,159.2 476.5,159.0 476.7,158.0ZM525.5,180.0 525.6,181.5 525.5,181.6 523.9,181.5 523.7,179.8ZM575.8,172.9 573.5,173.1 572.9,172.2 574.6,170.1 574.9,170.1 575.8,172.9ZM505.8,165.1 506.0,163.0 504.9,162.4 504.0,162.9 503.7,163.8 505.8,165.1ZM482.0,177.1 482.8,178.1 483.9,177.1 483.9,176.4 482.6,175.7 482.4,175.8ZM617.4,181.1 618.5,182.2 619.7,181.6 620.2,179.3 620.2,179.2 618.0,178.9ZM522.8,169.1 524.5,168.7 524.6,168.8 524.3,170.5 522.9,170.5ZM530.4,170.3 529.9,172.1 531.3,172.7 532.0,172.3 532.1,170.4ZM499.9,177.8 498.7,178.7 499.0,179.7 499.6,180.0 501.2,179.4 501.3,179.2ZM580.4,180.8 582.6,180.3 582.9,180.6 582.9,181.3 581.3,183.0 580.3,181.1ZM546.3,181.3 545.5,181.1 544.4,182.1 544.6,183.0 545.7,183.3ZM532.7,164.0 531.0,163.6 530.4,164.4 531.0,165.3 532.6,165.3 532.9,164.4ZM471.5,172.2 469.8,172.1 470.2,174.1 470.3,174.2 471.6,173.6ZM543.2,160.0 542.9,158.7 541.0,158.4 540.5,160.3 541.2,160.7ZM490.6,155.6 489.9,155.5 489.0,156.9 489.1,157.1 490.7,157.5 491.0,157.2ZM557.3,178.6 558.9,177.1 560.0,177.6 559.8,179.4 558.2,179.9ZM558.6,174.6 559.2,171.7 558.8,171.3 556.5,172.5 556.6,173.2ZM486.9,158.3 486.1,158.2 485.7,159.5 485.9,159.7 487.0,159.7 487.0,158.5ZM584.3,175.6 585.8,175.1 585.8,174.1 584.8,173.9 583.9,175.1 583.9,175.1ZM591.3,167.2 591.3,166.8 592.0,166.3 593.1,166.7 593.1,167.6 592.2,168.2ZM571.8,180.6 573.7,180.2 573.6,179.0 572.2,178.2 571.4,178.6 571.5,180.4ZM506.8,173.6 505.2,174.4 505.8,176.6 507.1,176.7 507.9,175.7ZM514.8,176.7 513.4,178.0 512.3,176.3 512.4,176.2 514.5,175.9ZM569.1,184.6 567.8,183.4 567.7,183.2 569.6,182.7 569.9,182.9 570.1,184.1ZM539.4,162.1 539.5,162.1 540.1,162.5 540.6,163.7 539.6,165.1 538.4,163.8ZM553.9,166.6 552.9,168.0 551.1,167.0 551.0,166.7 552.8,164.6ZM518.3,167.1 516.6,166.2 515.9,166.9 516.4,168.9 518.3,167.1ZM498.4,155.7 496.3,155.0 496.1,157.1 498.1,157.3ZM477.7,174.5 478.1,176.9 479.7,176.5 480.2,174.9 477.8,174.4ZM602.0,172.6 601.6,170.5 602.1,170.2 603.3,170.7 603.4,172.0 603.1,172.5ZM585.3,181.3 585.8,181.9 586.7,182.0 587.4,181.0 587.0,180.5 585.3,180.7ZM485.9,163.2 488.2,162.0 487.3,161.0 485.8,161.1 485.5,162.9ZM536.5,174.9 538.0,173.8 536.8,172.3 535.7,173.5 536.5,174.9ZM472.2,175.0 471.1,175.5 471.5,177.0 472.7,176.5 472.8,175.5ZM484.6,157.7 484.6,157.7 484.3,159.1 483.0,159.0 482.9,157.9 482.9,157.8Z"/></g>
<path d="M467.50,168.00 C467.92,167.17 469.08,164.42 470.00,163.00 C470.92,161.58 471.83,160.47 473.00,159.50 C474.17,158.53 475.33,157.77 477.00,157.20 C478.67,156.63 481.00,156.38 483.00,156.10 C485.00,155.82 487.17,155.62 489.00,155.50 C490.83,155.38 492.23,155.18 494.00,155.40 C495.77,155.62 498.10,156.23 499.60,156.80 C501.10,157.37 501.80,158.02 503.00,158.80 C504.20,159.58 505.63,160.80 506.80,161.50 C507.97,162.20 508.93,162.58 510.00,163.00 C511.07,163.42 512.03,163.77 513.20,164.00 C514.37,164.23 515.53,164.32 517.00,164.40 C518.47,164.48 520.50,164.82 522.00,164.50 C523.50,164.18 524.67,163.33 526.00,162.50 C527.33,161.67 528.67,160.32 530.00,159.50 C531.33,158.68 532.50,157.98 534.00,157.60 C535.50,157.22 537.27,157.25 539.00,157.20 C540.73,157.15 542.85,157.07 544.40,157.30 C545.95,157.53 546.87,158.28 548.30,158.60 C549.73,158.92 551.47,159.08 553.00,159.20 C554.53,159.32 555.83,159.25 557.50,159.30 C559.17,159.35 561.25,159.38 563.00,159.50 C564.75,159.62 566.50,159.67 568.00,160.00 C569.50,160.33 570.50,160.97 572.00,161.50 C573.50,162.03 575.50,163.20 577.00,163.20 C578.50,163.20 579.50,162.03 581.00,161.50 C582.50,160.97 583.67,160.42 586.00,160.00 C588.33,159.58 592.50,159.25 595.00,159.00 C597.50,158.75 599.33,158.50 601.00,158.50 C602.67,158.50 603.67,158.50 605.00,159.00 C606.33,159.50 607.75,160.50 609.00,161.50 C610.25,162.50 611.42,163.67 612.50,165.00 C613.58,166.33 614.62,167.93 615.50,169.50 C616.38,171.07 617.22,172.65 617.80,174.40 C618.38,176.15 618.80,179.07 619.00,180.00" fill="none" stroke="#6a6b6e" stroke-width="0.6"/>
<rect x="467" y="181.7" width="152" height="10.2" fill="#b3b3b3"/>
<rect x="467" y="191.9" width="152" height="17.5" fill="url(#gold1)"/><rect x="467" y="191.9" width="152" height="17.5" fill="url(#gold1r)"/>
</g>
<rect x="449" y="131" width="18.5" height="78.5" fill="#211816"/>
<rect x="449.5" y="131.5" width="169" height="77.5" fill="none" stroke="#211816" stroke-width="1"/>

<rect x="449" y="227" width="170" height="78.5" fill="#fff"/>
<g clip-path="url(#in2)">
<rect x="467" y="287" width="152" height="18.5" fill="url(#gold2)"/><rect x="467" y="287" width="152" height="18.5" fill="url(#gold2r)"/>
<path d="M479.30,277.80 C479.30,272.50 487.77,268.20 498.20,268.20 C508.30,268.20 516.50,274.02 516.50,281.20 C516.50,284.73 509.11,287.60 500.00,287.60 C488.57,287.60 479.30,283.21 479.30,277.80 Z" fill="url(#cellg)" stroke="#5e5f61" stroke-width="0.9"/><ellipse cx="496.8" cy="276.6" rx="6.10" ry="3.60" fill="url(#nuc)" stroke="#1d9a3b" stroke-width="0.7" transform="rotate(0 496.8 276.6)"/>
<path d="M518.10,278.80 C518.10,272.29 526.70,267.00 537.30,267.00 C548.89,267.00 558.30,273.18 558.30,280.80 C558.30,284.77 549.21,288.00 538.00,288.00 C527.02,288.00 518.10,283.88 518.10,278.80 Z" fill="url(#cellg)" stroke="#5e5f61" stroke-width="0.9"/><ellipse cx="538.5" cy="277.5" rx="6.60" ry="4.50" fill="url(#nuc)" stroke="#1d9a3b" stroke-width="0.7" transform="rotate(4 538.5 277.5)"/>
<path d="M560.10,281.00 C560.10,272.94 568.48,266.40 578.80,266.40 C589.95,266.40 599.00,273.12 599.00,281.40 C599.00,284.82 590.49,287.60 580.00,287.60 C569.02,287.60 560.10,284.64 560.10,281.00 Z" fill="url(#cellg)" stroke="#5e5f61" stroke-width="0.9"/><ellipse cx="580.4" cy="276.4" rx="7.80" ry="4.70" fill="url(#nuc)" stroke="#1d9a3b" stroke-width="0.7" transform="rotate(6 580.4 276.4)"/>
</g>
<rect x="449" y="227" width="18.5" height="78.5" fill="#f39200"/><line x1="467.6" y1="227" x2="467.6" y2="305.5" stroke="#211816" stroke-width="0.9"/>
<rect x="449.5" y="227.5" width="169" height="77.5" fill="none" stroke="#211816" stroke-width="1"/>
<line x1="24.3" y1="116" x2="24.3" y2="131.5" stroke="#a8d8f2" stroke-width="0.7"/>
</svg>
</body></html>
